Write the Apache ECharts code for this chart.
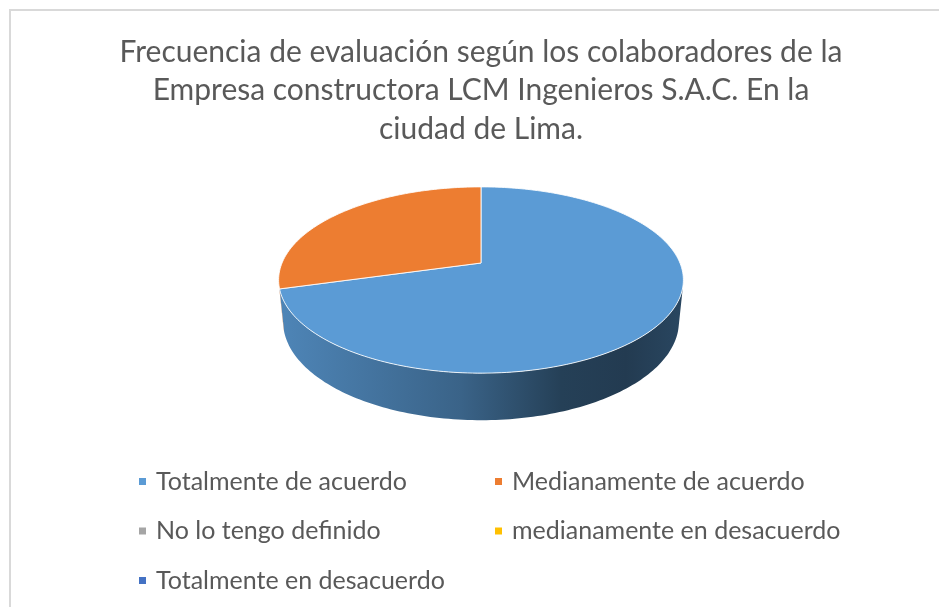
<!DOCTYPE html>
<html>
<head>
<meta charset="utf-8">
<script src="https://cdn.jsdelivr.net/npm/echarts@6/dist/echarts.min.js"></script>
<style>
  html, body { margin: 0; padding: 0; background: #fff; }
  #chart { width: 939px; height: 607px; }
</style>
</head>
<body>
<div id="chart"></div>
<script>
// datos del gráfico
const categories = [
  'Totalmente de acuerdo',
  'Medianamente de acuerdo',
  'No lo tengo definido',
  'medianamente en desacuerdo',
  'Totalmente en desacuerdo'
];
const values = [12, 5, 0, 0, 0];
const colors = ['#5b9bd5', '#ed7d31', '#a5a5a5', '#ffc000', '#4472c4'];
const titleText = 'Frecuencia de evaluación según los colaboradores de la\nEmpresa constructora LCM Ingenieros S.A.C. En la\nciudad de Lima.';

const FONT = 'Lato, "Open Sans", sans-serif';
const TEXT_COLOR = '#595959';

// proyección en perspectiva del pastel 3D (parecido al de Excel)
const CX = 481, CY = 263;
const DIST = 4.88, FOCAL = 971, TILT = 26.9 * Math.PI / 180, DEPTH = 0.236;
const SIL = Math.acos(-1 / (DIST * Math.cos(TILT))); // ángulo del borde visible

function project (r, t, y) {
  const x = r * Math.sin(t), z = r * Math.cos(t);
  const sy = y * Math.cos(TILT) + z * Math.sin(TILT);
  const d = DIST + z * Math.cos(TILT) - y * Math.sin(TILT);
  return [CX + FOCAL * x / d, CY - FOCAL * sy / d];
}

function arc (a0, a1, y) {
  const pts = [];
  const n = Math.max(2, Math.ceil((a1 - a0) / 0.02));
  for (let k = 0; k <= n; k++) pts.push(project(1, a0 + (a1 - a0) * k / n, y));
  return pts;
}

// oscurecer un color (f = factor 0..1)
function shade (c, f) {
  const rgb = echarts.color.parse(c);
  return 'rgb(' + [0, 1, 2].map(k => Math.round(rgb[k] * f)).join(',') + ')';
}

function wallFill (c) {
  return {
    type: 'linear', x: 280, y: 0, x2: 682, y2: 0, global: true,
    colorStops: [
      { offset: 0, color: shade(c, 0.86) },
      { offset: 0.45, color: shade(c, 0.64) },
      { offset: 0.7, color: shade(c, 0.41) },
      { offset: 0.86, color: shade(c, 0.38) },
      { offset: 1, color: shade(c, 0.45) }
    ]
  };
}

const total = values.reduce((a, b) => a + b, 0);

function renderItem (params, api) {
  const i = params.dataIndex;
  const v = api.value(0);
  if (!v) return null;
  let before = 0;
  for (let k = 0; k < i; k++) before += values[k];
  const a0 = before / total * Math.PI * 2;
  const a1 = (before + v) / total * Math.PI * 2;
  const children = [];
  // lateral
  const w0 = Math.max(a0, SIL), w1 = Math.min(a1, Math.PI * 2 - SIL);
  if (w1 > w0) {
    const pts = arc(w0, w1, 0).concat(arc(w0, w1, -DEPTH).reverse());
    children.push({ type: 'polygon', shape: { points: pts }, style: { fill: wallFill(colors[i]) }, z2: 1 });
  }
  // cara superior
  const top = [project(0, 0, 0)].concat(arc(a0, a1, 0));
  children.push({
    type: 'polygon', shape: { points: top },
    style: { fill: colors[i], stroke: 'rgba(255,255,255,0.85)', lineWidth: 1 }, z2: 10
  });
  return { type: 'group', children };
}

const legendBase = {
  orient: 'vertical', icon: 'rect', itemWidth: 7, itemHeight: 7, itemGap: 24.5,
  padding: 0, selectedMode: false,
  textStyle: { fontFamily: FONT, fontSize: 25, color: TEXT_COLOR, lineHeight: 24, padding: [0, 0, 0, 5] }
};

const chart = echarts.init(document.getElementById('chart'));
chart.setOption({
  animation: false,
  title: {
    text: titleText, left: 481, top: 33, textAlign: 'center', padding: 0,
    textStyle: { fontFamily: FONT, fontSize: 30, fontWeight: 'normal', color: TEXT_COLOR, lineHeight: 38.4 }
  },
  legend: [
    Object.assign({}, legendBase, { left: 139, top: 469, data: [categories[0], categories[2], categories[4]] }),
    Object.assign({}, legendBase, { left: 495, top: 469, data: [categories[1], categories[3]] })
  ],
  graphic: [{
    type: 'rect', shape: { x: 10, y: 10, width: 1000, height: 700 },
    style: { fill: 'none', stroke: '#d9d9d9', lineWidth: 2 }, silent: true
  }],
  series: [
    {
      type: 'pie', radius: [0, 0], silent: true,
      label: { show: false }, labelLine: { show: false },
      data: categories.map((n, i) => ({ name: n, value: values[i], itemStyle: { color: colors[i] } }))
    },
    {
      type: 'custom', name: '3d', coordinateSystem: 'none', silent: true,
      renderItem,
      data: values.map(v => [v])
    }
  ]
});
</script>
</body>
</html>
